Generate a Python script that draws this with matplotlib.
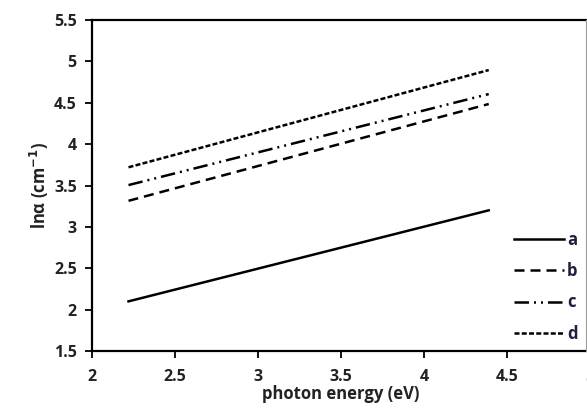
import matplotlib
matplotlib.use("Agg")
import matplotlib.pyplot as plt
from matplotlib.lines import Line2D

plt.rcParams['font.family'] = ['Open Sans', 'DejaVu Sans']
plt.rcParams['font.weight'] = 'bold'

photon_energy = [2.22, 4.39]
series_labels = ['a', 'b', 'c', 'd']
series_a = [2.10, 3.20]
series_b = [3.315, 4.485]
series_c = [3.505, 4.605]
series_d = [3.72, 4.895]
x_ticks = [2, 2.5, 3, 3.5, 4, 4.5, 5]
x_tick_labels = ['2', '2.5', '3', '3.5', '4', '4.5', '5']
y_ticks = [1.5, 2, 2.5, 3, 3.5, 4, 4.5, 5, 5.5]
y_tick_labels = ['1.5', '2', '2.5', '3', '3.5', '4', '4.5', '5', '5.5']

W, H = 587, 408
fig = plt.figure(figsize=(W/100, H/100), dpi=100)
ax = fig.add_axes([92/W, (H-351)/H, (590-92)/W, (351-20)/H])

lw = 1.8
styles = [
    dict(linestyle='-'),
    dict(linestyle=(0, (4.0, 2.4))),
    dict(linestyle=(0, (5.8, 2.0, 0.8, 2.0, 0.8, 2.0))),
    dict(linestyle=(0, (2.0, 0.9))),
]
data = [series_a, series_b, series_c, series_d]
for lab, ys, st in zip(series_labels, data, styles):
    ax.plot(photon_energy, ys, color='black', lw=lw, label=lab, **st)

ax.set_xlim(2, 5)
ax.set_ylim(1.5, 5.5)
ax.set_xticks(x_ticks)
ax.set_xticklabels(x_tick_labels)
ax.set_yticks(y_ticks)
ax.set_yticklabels(y_tick_labels)
ax.tick_params(axis='both', direction='out', length=5, width=1.3, labelsize=11.5,
               colors='black')
ax.tick_params(axis='x', pad=8)
ax.tick_params(axis='y', pad=6)
for lbl in ax.get_xticklabels() + ax.get_yticklabels():
    lbl.set_fontweight('bold')
    lbl.set_color('#222222')
for s in ['left', 'bottom', 'top']:
    ax.spines[s].set_linewidth(1.6)
ax.spines['right'].set_visible(False)

ax.set_xlabel('photon energy (eV)', fontsize=12, fontweight='bold', labelpad=0, color='#222222')
ax.set_ylabel('lnα (cm$^{\\mathbf{-1}}$)', fontsize=12, fontweight='bold', labelpad=2, color='#222222')

fig.add_artist(Line2D([586/W, 586/W], [(H-351)/H, (H-20)/H], color='#999999', lw=0.8))

leg = ax.legend(loc='upper left', bbox_to_anchor=((507-92)/(590-92), (351-224)/(351-20)),
                frameon=False, handlelength=3.0, handletextpad=0.2, labelspacing=0.8,
                fontsize=12, borderaxespad=0)
for t in leg.get_texts():
    t.set_color('#1f1f3f')
    t.set_fontweight('bold')

fig.savefig('out.png', dpi=100)
